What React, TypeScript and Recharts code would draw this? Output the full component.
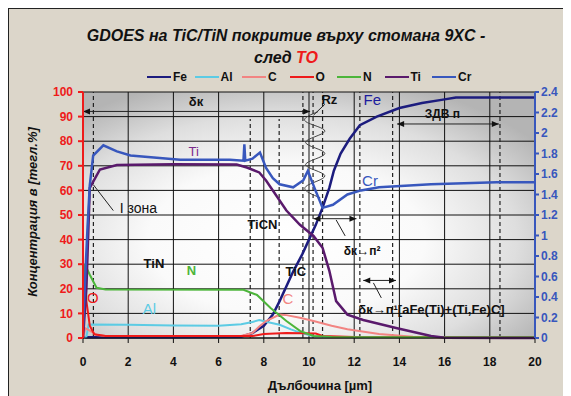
import { ComposedChart, Line, XAxis, YAxis, CartesianGrid, ReferenceLine, ReferenceDot } from "recharts"

const FONT = "'Liberation Sans', Arial, sans-serif"

// depth [µm] -> concentration [mass %], left axis
const fe = [[0, 0.3], [4, 0.3], [7, 0.5], [7.5, 2], [8, 5], [8.4, 9.5], [8.7, 15], [9.3, 27], [9.7, 34], [10.05, 41], [10.3, 46], [10.6, 53], [10.9, 61], [11.1, 68], [11.4, 75], [11.8, 81], [12.25, 86.5], [13, 90], [14, 93.5], [15, 95.5], [16, 97], [16.5, 97.8], [20, 97.8]]
const al = [[0, 0], [0.15, 0.5], [0.25, 5.5], [2, 5.4], [4, 5.1], [6, 5], [7, 5.6], [7.5, 6.5], [7.8, 7.3], [8.2, 6.4], [8.7, 5.4], [9.2, 3.5], [9.6, 2.2], [10.2, 0.7], [11, 0.4], [20, 0.3]]
const c = [[0, 0], [0.1, 4], [0.3, 3], [0.6, 1.2], [1, 0.8], [7, 0.8], [7.5, 2], [7.8, 4.7], [8.1, 6.9], [8.7, 9.5], [9, 9.3], [9.6, 8.2], [10.2, 6.9], [11, 5], [11.7, 3.6], [13.1, 1.6], [14.6, 0.5], [16, 0.2], [20, 0.1]]
const o = [[0, 0], [0.03, 25], [0.15, 15], [0.3, 5], [0.5, 1.5], [1, 0.8], [7.5, 0.8], [8, 1.6], [9, 2], [10.3, 1.8], [10.6, 0.8], [12, 0.4], [20, 0.3]]
const n = [[0, 10], [0.08, 30], [0.3, 25.7], [0.6, 20.4], [1, 19.7], [7.1, 19.6], [7.7, 17.5], [8.3, 12.2], [9, 6.9], [9.6, 2.9], [10.2, 0.8], [11, 0.4], [20, 0.3]]
const ti = [[0, 0], [0.15, 20], [0.3, 61], [0.75, 68.5], [1.5, 70.3], [4, 70.6], [6.8, 70.5], [7.25, 69.3], [7.8, 67.3], [8.1, 64], [9, 51.8], [9.6, 46], [10.2, 41.5], [10.6, 36.7], [10.9, 27.3], [11.2, 15], [11.7, 9.5], [12.4, 7.3], [13.9, 4], [15.4, 0.8], [16, 0.1], [20, 0]]
// Cr on right axis
const cr = [[0, 0.1], [0.1, 0.6], [0.2, 1.08], [0.3, 1.49], [0.45, 1.78], [0.9, 1.88], [1.5, 1.82], [2.1, 1.78], [4.3, 1.74], [6.5, 1.74], [7.1, 1.73], [7.14, 1.89], [7.18, 1.73], [7.5, 1.75], [7.83, 1.81], [8.1, 1.66], [8.4, 1.56], [8.7, 1.5], [9.3, 1.47], [9.75, 1.54], [9.95, 1.63], [10.25, 1.46], [10.6, 1.27], [11.06, 1.3], [11.7, 1.4], [12.3, 1.44], [13.1, 1.47], [15.4, 1.5], [18.3, 1.52], [20, 1.52]]

// Rz roughness zig-zag
const rz = [[10.4, 92], [9.85, 88], [10.7, 84], [9.85, 79.5], [10.7, 75], [9.85, 70.5], [10.7, 66], [9.85, 61.5], [10.5, 57]]

const xTicks = [0, 2, 4, 6, 8, 10, 12, 14, 16, 18, 20]
const leftTicks = [0, 10, 20, 30, 40, 50, 60, 70, 80, 90, 100]
const rightTicks = [0, 0.2, 0.4, 0.6, 0.8, 1, 1.2, 1.4, 1.6, 1.8, 2, 2.2, 2.4]

const series = [
  { name: "Fe", pts: fe, color: "#1c1c7e", axis: "left", w: 2.5 },
  { name: "Al", pts: al, color: "#5ccbe4", axis: "left", w: 2 },
  { name: "C", pts: c, color: "#f28482", axis: "left", w: 2 },
  { name: "O", pts: o, color: "#ee1b1b", axis: "left", w: 2 },
  { name: "N", pts: n, color: "#4cb53a", axis: "left", w: 2 },
  { name: "Ti", pts: ti, color: "#5a1a6c", axis: "left", w: 2.5 },
  { name: "Cr", pts: cr, color: "#3857bd", axis: "right", w: 2.5 },
]

const dashedFull = [0.46, 9.73, 10.18, 10.6, 12.25, 13.7, 18.45]
const dashedLow = [7.4, 8.68]

const labels = [
  { x: 5.0, y: 96, t: "δк", c: "#111", s: 13, b: true },
  { x: 10.9, y: 97, t: "Rz", c: "#111", s: 13, b: true },
  { x: 12.8, y: 97, t: "Fe", c: "#1c1c9e", s: 15, b: false },
  { x: 15.9, y: 91.2, t: "ЗДВ п", c: "#111", s: 12, b: true },
  { x: 4.9, y: 76, t: "Ti", c: "#7a2a8c", s: 13, b: false },
  { x: 12.7, y: 64, t: "Cr", c: "#3857bd", s: 15, b: false },
  { x: 2.45, y: 52.7, t: "I зона", c: "#111", s: 14, b: false },
  { x: 7.94, y: 46, t: "TiCN", c: "#111", s: 13, b: true },
  { x: 3.14, y: 30.2, t: "TiN", c: "#111", s: 13, b: true },
  { x: 4.8, y: 27.5, t: "N", c: "#4cb53a", s: 13, b: true },
  { x: 9.42, y: 26.9, t: "TiC", c: "#111", s: 13, b: true },
  { x: 9.07, y: 16, t: "C", c: "#f28482", s: 15, b: false },
  { x: 2.94, y: 11.9, t: "Al", c: "#5ccbe4", s: 15, b: false },
  { x: 0.44, y: 16.3, t: "O", c: "#ee1b1b", s: 15, b: false },
  { x: 12.35, y: 35.5, t: "δк→п²", c: "#111", s: 12, b: true },
  { x: 15.42, y: 11.5, t: "δк→п¹[aFe(Ti)+(Ti,Fe)C]", c: "#111", s: 13, b: true },
]

// [x1, y1, x2, y2, arrow at start, arrow at end]
const arrows: [number, number, number, number, boolean, boolean][] = [
  [0, 92.1, 10.05, 92.1, true, true],
  [13.9, 87, 18.4, 87, true, true],
  [10.2, 48.5, 12.1, 48.5, true, true],
  [12.4, 23.4, 13.85, 23.4, true, true],
  [0.45, 62.4, 1.34, 51.8, false, false],
  [10.7, 95, 10.2, 90.6, false, false],
  [11.2, 48, 11.6, 41.5, false, false],
  [12.85, 22.4, 13.2, 16.3, false, false],
]

const toPts = (arr: number[][]) => arr.map(([x, v]) => ({ x, v }))

const head = (x: number, y: number, dir: number, key: string) => (
  <polygon key={key} points={`${x},${y} ${x - dir * 7},${y - 3} ${x - dir * 7},${y + 3}`} fill="#111" />
)

const arrowShape = (s: boolean, e: boolean) => (p: any) => {
  const dir = p.x2 >= p.x1 ? 1 : -1
  return (
    <g>
      <line x1={p.x1} y1={p.y1} x2={p.x2} y2={p.y2} stroke="#222" strokeWidth={1} />
      {s && head(p.x1, p.y1, -dir, "s")}
      {e && head(p.x2, p.y2, dir, "e")}
    </g>
  )
}

export default function App() {
  return (
    <div
      style={{
        position: "relative",
        width: 563,
        height: 388,
        background: "#dcd6ca",
        boxShadow: "inset 1px 1px 0 #222",
        fontFamily: FONT,
      }}
    >
      <div style={{ position: "absolute", left: 0, width: 556, top: 17, textAlign: "center", fontSize: 16, fontWeight: "bold", fontStyle: "italic", color: "#111", lineHeight: "22px" }}>
        GDOES на TiC/TiN покритие върху стомана 9XC -<br />
        след <span style={{ color: "#ee1b1b" }}>TO</span>
      </div>

      <div style={{ position: "absolute", left: 139, top: 61, display: "flex", fontSize: 12, fontWeight: "bold", color: "#111" }}>
        {series.map((s) => (
          <div key={s.name} style={{ width: 47.5, display: "flex", alignItems: "center", height: 16 }}>
            <div style={{ width: 24, height: 2, background: s.color, marginRight: 2 }} />
            {s.name}
          </div>
        ))}
      </div>

      <div style={{ position: "absolute", left: 24, top: 204, transform: "translate(-50%, -50%) rotate(-90deg)", whiteSpace: "nowrap", fontSize: 13, fontWeight: "bold", fontStyle: "italic", color: "#111" }}>
        Концентрация в [тегл.%]
      </div>

      <div style={{ position: "absolute", left: 312, top: 377, transform: "translate(-50%, -50%)", whiteSpace: "nowrap", fontSize: 13, fontWeight: "bold", color: "#111" }}>
        Дълбочина [µm]
      </div>

      <ComposedChart width={563} height={388} margin={{ top: 84, right: 0, bottom: 28, left: 0 }} style={{ position: "absolute", left: 0, top: 0, fontFamily: FONT }}>
        <defs>
          <radialGradient id="plotBg" cx="0.45" cy="0.6" r="0.68">
            <stop offset="0" stopColor="#ffffff" />
            <stop offset="0.45" stopColor="#fafafa" />
            <stop offset="0.75" stopColor="#dedede" />
            <stop offset="1" stopColor="#b4b4b4" />
          </radialGradient>
        </defs>
        <CartesianGrid yAxisId="left" stroke="#111" strokeWidth={1} fill="url(#plotBg)" fillOpacity={1} />
        <XAxis
          dataKey="x"
          type="number"
          domain={[0, 20]}
          ticks={xTicks}
          allowDataOverflow
          height={30}
          stroke="#111"
          tickSize={5}
          tickMargin={14}
          tick={{ fill: "#111", fontSize: 12, fontWeight: "bold" }}
        />
        <YAxis
          yAxisId="left"
          domain={[0, 100]}
          ticks={leftTicks}
          width={75}
          stroke="#ee1b1b"
          strokeWidth={2}
          tickSize={5}
          tickMargin={5}
          tick={{ fill: "#ee1b1b", fontSize: 12, fontWeight: "bold" }}
        />
        <YAxis
          yAxisId="right"
          orientation="right"
          domain={[0, 2.4]}
          ticks={rightTicks}
          width={36}
          stroke="#3857bd"
          strokeWidth={2}
          tickSize={4}
          tickMargin={2}
          tick={{ fill: "#3857bd", fontSize: 12, fontWeight: "bold" }}
        />

        {dashedFull.map((x) => (
          <ReferenceLine key={"d" + x} yAxisId="left" x={x} stroke="#222" strokeWidth={1.2} strokeDasharray="4 3" />
        ))}
        {dashedLow.map((x) => (
          <ReferenceLine key={"l" + x} yAxisId="left" segment={[{ x, y: 0 }, { x, y: 89 }]} stroke="#222" strokeWidth={1.2} strokeDasharray="4 3" />
        ))}

        <Line yAxisId="left" data={toPts(rz)} dataKey="v" type="natural" stroke="#444" strokeWidth={1} dot={false} legendType="none" isAnimationActive={false} />

        {series.map((s) => (
          <Line
            key={s.name}
            yAxisId={s.axis}
            data={toPts(s.pts)}
            dataKey="v"
            name={s.name}
            type="linear"
            stroke={s.color}
            strokeWidth={s.w}
            dot={false}
            isAnimationActive={false}
          />
        ))}

        {arrows.map(([x1, y1, x2, y2, a, b], i) => (
          <ReferenceLine key={"a" + i} yAxisId="left" segment={[{ x: x1, y: y1 }, { x: x2, y: y2 }]} shape={arrowShape(a, b)} />
        ))}

        {labels.map((l) => (
          <ReferenceDot
            key={l.t}
            yAxisId="left"
            x={l.x}
            y={l.y}
            r={0}
            shape={(p: any) => (
              <text x={p.cx} y={p.cy} textAnchor="middle" dominantBaseline="central" fill={l.c} fontSize={l.s} fontWeight={l.b ? "bold" : "normal"} fontFamily={FONT}>
                {l.t}
              </text>
            )}
          />
        ))}
      </ComposedChart>
    </div>
  )
}
